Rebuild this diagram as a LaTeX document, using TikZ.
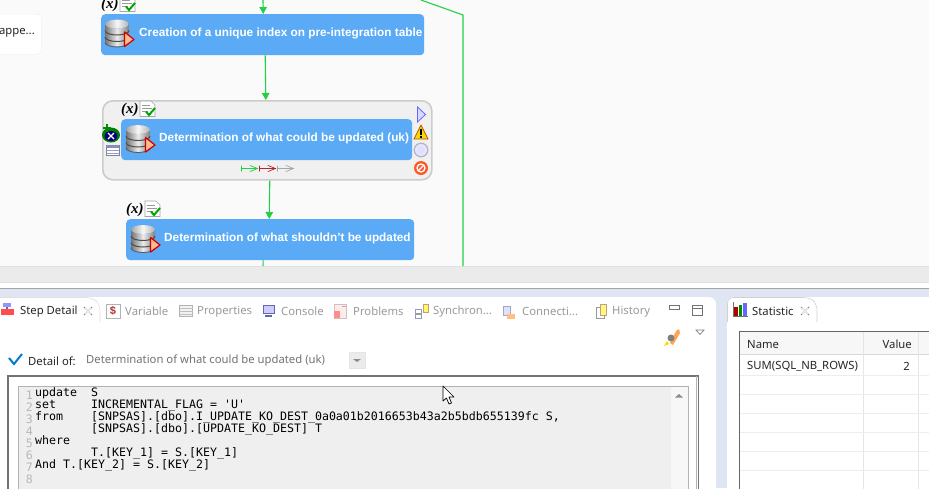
\documentclass[tikz,border=0pt]{standalone}
\usepackage{fontspec}
\setmainfont{Liberation Sans}
\newfontfamily\uifont{Noto Sans}
\newfontfamily\codefont{DejaVu Sans Mono}
\newfontfamily\varfont{Liberation Serif}
\usetikzlibrary{arrows.meta,shapes.geometric}
\definecolor{stepblue}{HTML}{5AAAF5}
\definecolor{flowgreen}{HTML}{22D044}
\definecolor{canvasbg}{HTML}{FAFAFA}
\definecolor{bandgray}{HTML}{EBEBEB}
\definecolor{framelav}{HTML}{E0E5F4}
\definecolor{dimtext}{HTML}{9A9A9A}
\definecolor{edgray}{HTML}{EFEFEF}
\definecolor{gridline}{HTML}{EDEDED}
\tikzset{
  x=1pt,y=-1pt,
  stepnode/.style={fill=stepblue,rounded corners=4pt,draw=none,inner sep=0pt,minimum height=41pt,anchor=north west},
  steptext/.style={anchor=west,inner sep=0pt,text=white,font=\bfseries\fontsize{11.8}{14}\selectfont},
  flow/.style={draw=flowgreen,line width=1.1pt,-{Triangle[length=7pt,width=7.5pt]}},
  flowplain/.style={draw=flowgreen,line width=1.1pt},
  tablabel/.style={font=\uifont\fontsize{11.3}{14}\selectfont,anchor=west,inner sep=0pt,text=dimtext},
  activelabel/.style={tablabel,text=black!85},
  codeline/.style={font=\codefont\fontsize{11.62}{12}\selectfont,anchor=base west,inner sep=0pt,text=black},
  linenum/.style={font=\codefont\fontsize{11.62}{12}\selectfont,anchor=base east,inner sep=0pt,text=black!28},
  celltext/.style={font=\uifont\fontsize{11.3}{14}\selectfont,inner sep=0pt,text=black!85},
  closex/.pic={\draw[black!50,line width=.8pt] (-4,-4)--(4,4) (-4,4)--(4,-4);
     \draw[white,line width=.5pt] (-3,-3)--(3,3) (-3,3)--(3,-3);},
  dbicon/.pic={
    \shade[left color=black!55,right color=black!50,middle color=black!8]
      (-12,9) arc[start angle=180,end angle=360,x radius=12,y radius=-4.5]
      -- (12,-9) arc[start angle=0,end angle=180,x radius=12,y radius=4.5] -- cycle;
    \shade[left color=black!35,right color=black!30,middle color=black!3] (0,-9) ellipse[x radius=11.8,y radius=4.4];
    \draw[black!70,line width=1pt] (-12,-2.5) arc[start angle=180,end angle=360,x radius=12,y radius=-4.5];
    \draw[black!70,line width=1pt] (-12,4) arc[start angle=180,end angle=360,x radius=12,y radius=-4.5];
    \draw[black!65,line width=.8pt] (-12,9.5) arc[start angle=180,end angle=360,x radius=12,y radius=-4.5];
    \fill[fill=white!62!orange!90!red,draw=red!80!black,line width=1.2pt,line join=round] (7.5,-1) -- (17,6.5) -- (7.5,13.5) -- cycle;
  },
  varicon/.pic={
    \node[inner sep=0pt,anchor=west,font=\varfont\bfseries\itshape\fontsize{15}{15}\selectfont] (vlabel) at (0,0.5) {(x)};
    \draw[black!35,fill=white,line width=.6pt] (19,-8) -- (30,-8) -- (34,-4) -- (34,7.5) -- (19,7.5) -- cycle;
    \draw[black!40,line width=.7pt] (21,-4)--(29,-4) (21,-1)--(31,-1) (21,2)--(27,2);
    \draw[green!65!black,line width=2pt] (25,2.5)--(28,6)--(34,-1);
  }
}
\begin{document}
\begin{tikzpicture}
\useasboundingbox (0,0) rectangle (929,488);
\clip (0,0) rectangle (929,488);
% backgrounds
\fill[canvasbg] (0,0) rectangle (929,266);
\fill[bandgray] (0,266) rectangle (929,282);
\fill[white] (0,282) rectangle (929,288);
\draw[black!12,line width=.6pt] (0,266)--(929,266) (0,282)--(929,282);
\fill[framelav] (0,288) rectangle (929,488);
\draw[black!35,line width=.7pt] (0,288.5)--(929,288.5);
\fill[white,rounded corners=7pt] (-10,297) -- (716,297) -- (716,500) -- (-10,500) -- cycle;
\fill[white,rounded corners=7pt] (727,297) -- (940,297) -- (940,500) -- (727,500) -- cycle;
\draw[black!18,rounded corners=6pt,line width=.6pt] (727.5,322) -- (727.5,297.5) -- (810,297.5) -- (817,304) -- (817,322);
\draw[black!12,rounded corners=6pt,line width=.6pt] (-5,297.5) -- (92,297.5) -- (100,304) -- (100,322);
% left stub
\node[fill=white,draw=black!6,rounded corners=4pt,minimum width=51pt,minimum height=40pt,inner sep=0pt,anchor=north west] (stub) at (-10,14) {};
\node[anchor=east,inner sep=0pt,font=\uifont\fontsize{11.3}{14}\selectfont,text=black!85] (stubtext) at (35,33) {appe...};
% container
\node[draw=black!20,fill=black!6,rounded corners=10pt,line width=1.6pt,minimum width=329pt,minimum height=79pt,inner sep=0pt,anchor=north west] (box) at (102,100) {};
% steps
\node[stepnode,minimum width=323pt] (n1) at (101,14) {};
\node[stepnode,minimum width=291pt] (n2) at (121,119) {};
\node[stepnode,minimum width=288pt] (n3) at (126,219) {};
\node[steptext] (t1) at (139,33) {Creation of a unique index on pre-integration table};
\node[steptext] (t2) at (159,138) {Determination of what could be updated (uk)};
\node[steptext] (t3) at (164,238) {Determination of what shouldn't be updated};
\pic at (117,33) {dbicon};
\pic at (138,138.5) {dbicon};
\pic at (143,238.5) {dbicon};
\pic at (101,4) {varicon};
\pic at (121,109) {varicon};
\pic at (126,209) {varicon};
% connectors
\coordinate (topin) at (263,0);
\coordinate (fara) at (421,0);
\coordinate (farb) at (463,15);
\coordinate (farc) at (463,266);
\coordinate (n3out) at (263,266);
\draw[flow] (topin) -- ([xshift=.5pt]n1.north);
\draw[flow] ([xshift=2.5pt]n1.south) -- ([xshift=-1.5pt]box.north);
\draw[flow] ([xshift=2.5pt]box.south) -- ([xshift=-1pt]n3.north);
\draw[flowplain] ([xshift=-7pt]n3.south) -- (n3out);
\draw[flowplain] (fara) -- (farb) -- (farc);
% container left icons
\fill[green!50!black] (111,135) ellipse[x radius=9,y radius=7.5];
\fill[blue!50!black] (111,136) ellipse[x radius=6.5,y radius=5];
\draw[white,line width=1.3pt] (108,133)--(114,139) (114,133)--(108,139);
\draw[green!55!black,line width=2.2pt] (107,124)--(107,132) (103,128)--(111,128);
\draw[blue!30!black!50,fill=white,line width=.6pt] (106,145) rectangle (119,155);
\fill[blue!40!black!45] (106,145) rectangle (119,148);
\draw[blue!40!black!40,line width=.5pt] (106,150.5)--(119,150.5) (106,153)--(119,153);
% container right icons
\draw[blue!60,fill=blue!15,line width=.8pt] (417.5,107) -- (425.5,114.5) -- (417.5,122) -- cycle;
\draw[orange!70!black,fill=yellow!75!orange,line width=.8pt,line join=round] (421,125) -- (428,139) -- (414,139) -- cycle;
\draw[black,line width=1.5pt] (421,129)--(421,134.5) (421,136)--(421,137.5);
\draw[blue!25!black!30,fill=blue!10,line width=1.2pt] (421,150) circle[radius=6.8];
\fill[white!75!blue!50] (421,150) circle[radius=3.5];
\fill[red!55!orange!85] (421,168) circle[radius=7];
\draw[white,line width=1.3pt] (421,168) circle[radius=4];
\draw[white,line width=1.3pt] (418,171)--(424,165);
% link marks
\begin{scope}[line cap=round]
\draw[flowgreen,line width=1pt] (241.5,166)--(241.5,171) (241.5,168.5)--(257,168.5);
\draw[flowgreen,line width=.7pt] (250,165.5)--(257.5,168.5)--(250,171.5);
\draw[red!65!black!85,line width=1pt] (259.5,166)--(259.5,171) (259.5,168.5)--(275,168.5);
\draw[red!65!black!85,line width=.7pt] (268,165.5)--(275.5,168.5)--(268,171.5);
\draw[black!35,line width=1pt] (277.5,166)--(277.5,171) (277.5,168.5)--(293,168.5);
\draw[black!35,line width=.7pt] (286,165.5)--(293.5,168.5)--(286,171.5);
\end{scope}
% tab strip left
\fill[blue!50!black!60] (6,303) rectangle (8,309);
\fill[blue!60!white!70] (3,303) rectangle (11,307);
\fill[red!70!white] (1,309) rectangle (14,315);
\node[activelabel] (tab1) at (20,311.5) {Step Detail};
\pic at (88,311) {closex};
\draw[black!30,fill=white] (106,304) rectangle (120,318);
\node[inner sep=0pt,font=\bfseries\fontsize{11}{12}\selectfont,text=red!60!black!80] (dollar) at (113,311) {\$};
\node[tablabel] (tab2) at (125,311.5) {Variable};
\draw[black!30,fill=black!5] (179.5,305) rectangle (192.5,316);
\draw[black!25,line width=.5pt] (179.5,308)--(192.5,308) (179.5,311)--(192.5,311) (179.5,314)--(192.5,314);
\node[tablabel] (tab3) at (197,311.5) {Properties};
\draw[blue!45!black!60,fill=blue!20,line width=1pt] (263,305) rectangle (274,313);
\fill[blue!45!black!60] (265,315) rectangle (272,316.5);
\node[tablabel] (tab4) at (281,311.5) {Console};
\draw[red!30!black!25,fill=red!8] (334,304) rectangle (346,318);
\fill[red!45] (334,311) rectangle (340,318);
\draw[black!30,line width=.6pt] (342,306)--(346,306);
\node[tablabel] (tab5) at (353,311.5) {Problems};
\draw[blue!30!black!40,fill=white,line width=.6pt] (415,309) rectangle (421,313) (415,314) rectangle (421,318);
\draw[orange!50!black!50,fill=yellow!60] (423,304) rectangle (428,312);
\node[tablabel] (tab6) at (433,311.5) {Synchron...};
\draw[blue!25!black!35,fill=blue!12] (503,306) rectangle (510,315);
\fill[orange!50] (507,314) rectangle (515,319);
\node[tablabel] (tab7) at (522,311.5) {Connecti...};
\draw[black!40,fill=white] (596,307) rectangle (604,318);
\draw[orange!50!black!50,fill=yellow!50] (600,304) rectangle (606,315);
\node[tablabel] (tab8) at (612,311.5) {History};
% view controls
\draw[black!55,fill=white,line width=.9pt] (669.5,305.5) rectangle (679,309);
\draw[black!55,fill=white,line width=.9pt] (692.5,305.5) rectangle (702.5,315);
\draw[black!55,line width=.9pt] (692.5,308)--(702.5,308);
\draw[black!50,line width=.7pt] (696,330)--(704,330)--(700,334.5)--cycle;
\fill[orange!70] (670,343) -- (676,331) -- (679,329) -- (680,333) -- (673,345) -- cycle;
\fill[black!50] (671,338) circle[radius=3.5];
\fill[yellow!75!orange] (664,346) -- (667,341) -- (669,344) -- cycle;
% detail line
\draw[blue!40!cyan!80!black,line width=2pt] (9,358)--(14,364)--(22,354);
\node[activelabel] (detail) at (28,361) {Detail of:};
\node[tablabel,text=black!55] (detailval) at (86,360.5) {Determination of what could be updated (uk)};
\node[fill=black!8,draw=black!10,minimum width=16pt,minimum height=16pt,inner sep=0pt] (combo) at (357,360) {};
\fill[black!45] (353,359) -- (361,359) -- (357,362) -- cycle;
% editor
\draw[black!55,line width=1pt,fill=white] (8,376) rectangle (698.5,500);
\draw[black!55,line width=2pt] (7.5,375.5)--(698.5,375.5);
\draw[black!55,line width=2pt] (8,375)--(8,500);
\draw[black!30,line width=.6pt] (696,376) -- (696,500);
\draw[black!30,line width=.7pt,fill=edgray] (18.5,386) rectangle (688,500);
\fill[black!3] (671,386.5) rectangle (687.5,500);
\fill[black!45] (675,397.5) -- (683,397.5) -- (679,394) -- cycle;
\node[codeline] (c1) at (35,396) {update~~S};
\node[codeline] (c2) at (35,408) {set~~~~~INCREMENTAL\_FLAG~=~'U'};
\node[codeline] (c3) at (35,420) {from~~~~[SNPSAS].[dbo].I\_UPDATE\_KO\_DEST\_0a0a01b2016653b43a2b5bdb655139fc~S,};
\node[codeline] (c4) at (35,432) {~~~~~~~~[SNPSAS].[dbo].[UPDATE\_KO\_DEST]~T};
\node[codeline] (c5) at (35,444) {where};
\node[codeline] (c6) at (35,456) {~~~~~~~~T.[KEY\_1]~=~S.[KEY\_1]};
\node[codeline] (c7) at (35,468) {And~T.[KEY\_2]~=~S.[KEY\_2]};
\foreach \i/\b in {1/399,2/411,3/423,4/435,5/447,6/459,7/471,8/483}{\node[linenum] (ln\i) at (33,\b) {\i};}
% statistic tab
\fill[red!70!black] (734,307) rectangle (738,316);
\fill[green!55!black] (739,305) rectangle (742,316);
\fill[blue!60!white] (743,303) rectangle (747,316);
\draw[black!55,line width=.5pt] (733,302)--(733,316.5)--(748,316.5);
\node[activelabel] (stat) at (752,311.5) {Statistic};
\pic at (805,311) {closex};
\draw[black!60,line width=.7pt] (739.5,500)--(739.5,331)--(940,331);
\fill[black!3] (740,332) rectangle (940,354);
\draw[black!15,line width=.8pt] (740,354.5)--(940,354.5);
\draw[black!10,line width=.8pt] (863.5,332)--(863.5,500) (918.5,332)--(918.5,500);
\foreach \yy in {375,394,413,432,451,470}{\draw[gridline,line width=.8pt] (740,\yy)--(940,\yy);}
\node[celltext,anchor=west] (thn) at (747,344.5) {Name};
\node[celltext,anchor=east] (thv) at (912,344.5) {Value};
\node[celltext,anchor=west] (td1) at (747,366.5) {SUM(SQL\_NB\_ROWS)};
\node[celltext,anchor=east] (td2) at (910,366.5) {2};
% cursor
\draw[black,fill=white,line width=.7pt,line join=round] (443,386) -- (443,401) -- (446.5,398) -- (449,404) -- (451.5,403) -- (449,397) -- (454,397) -- cycle;
\end{tikzpicture}
\end{document}
